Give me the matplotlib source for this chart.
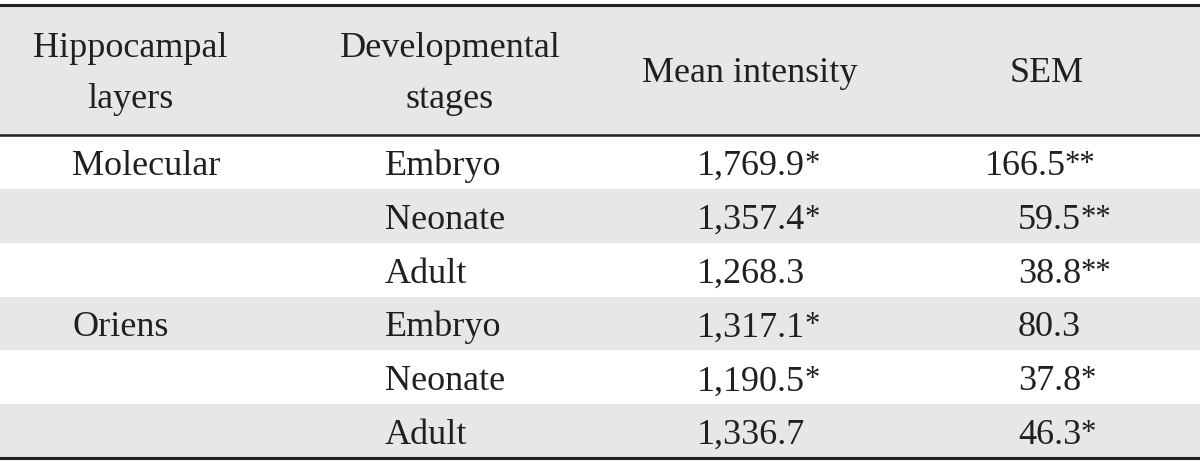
import matplotlib.pyplot as plt
from matplotlib.patches import Rectangle

layers = ["Molecular", "", "", "Oriens", "", ""]
stages = ["Embryo", "Neonate", "Adult", "Embryo", "Neonate", "Adult"]
mean_intensity = ["1,769.9", "1,357.4", "1,268.3", "1,317.1", "1,190.5", "1,336.7"]
mean_marks = ["*", "*", "", "*", "*", ""]
sem = ["166.5", "59.5", "38.8", "80.3", "37.8", "46.3"]
sem_marks = ["**", "**", "**", "", "*", "*"]
headers = ["Hippocampal\nlayers", "Developmental\nstages", "Mean intensity", "SEM"]

W, H = 1200, 462
gray = "#e6e7e8"
ink = "#231f20"
font = "Liberation Serif"
fs = 26

fig = plt.figure(figsize=(W / 100, H / 100), dpi=100)
ax = fig.add_axes([0, 0, 1, 1])
ax.set_xlim(0, W)
ax.set_ylim(H, 0)
ax.axis("off")

top, head_bot, bottom = 5, 135, 458
row_h = (bottom - head_bot) / len(stages)

# header band
ax.add_patch(Rectangle((0, top), W, head_bot - top, color=gray, lw=0))
# zebra rows
for i in range(len(stages)):
    if i % 2 == 1:
        ax.add_patch(Rectangle((0, head_bot + i * row_h), W, row_h, color=gray, lw=0))

ax.axhline(top, color=ink, lw=2.2)
ax.axhline(head_bot, color=ink, lw=1.8)
ax.axhline(bottom, color=ink, lw=2.2)

head_x = [130, 450, 750, 1047]
for x, h in zip(head_x, headers):
    ax.text(x, (top + head_bot) / 2 + 4, h, ha="center", va="center",
            fontsize=fs, family=font, color=ink, linespacing=1.7)

renderer = fig.canvas.get_renderer()


def value_with_marks(x, y, value, marks):
    t = ax.text(x, y, value, ha="left", va="baseline", fontsize=fs, family=font, color=ink)
    if marks:
        bb = t.get_window_extent(renderer).transformed(ax.transData.inverted())
        ax.text(bb.x1 - 1, y - 3, marks, ha="left", va="baseline",
                fontsize=fs * 0.85, family=font, color=ink)


for i in range(len(stages)):
    y = head_bot + (i + 0.5) * row_h + 13
    ax.text(72, y, layers[i], ha="left", va="baseline", fontsize=fs, family=font, color=ink)
    ax.text(385, y, stages[i], ha="left", va="baseline", fontsize=fs, family=font, color=ink)
    value_with_marks(697, y, mean_intensity[i], mean_marks[i])
    sx = 985 if sem[i].startswith("166") else 1018
    value_with_marks(sx, y, sem[i], sem_marks[i])

fig.savefig("out.png", dpi=100)
